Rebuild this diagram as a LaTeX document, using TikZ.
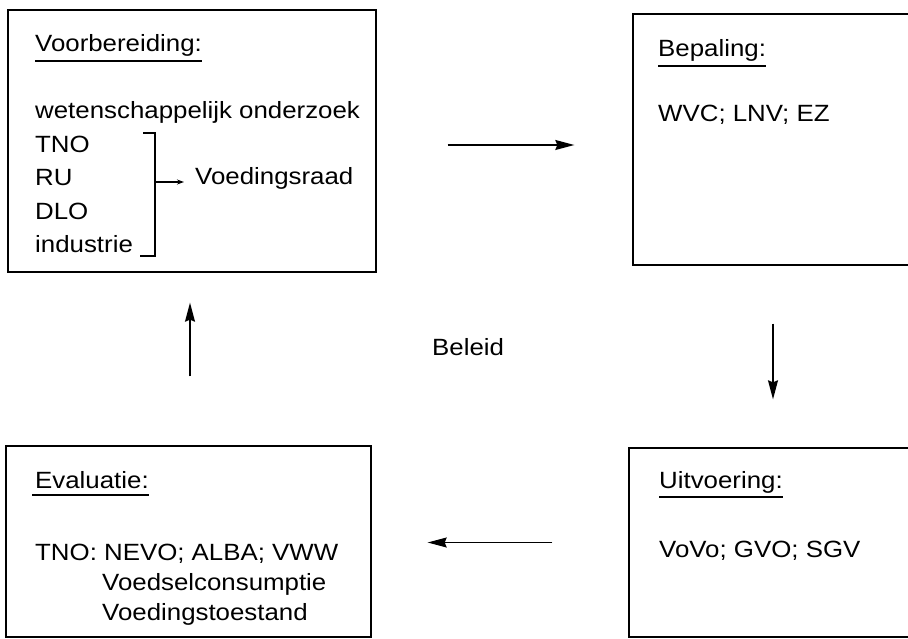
\documentclass[tikz,border=0pt]{standalone}
\usepackage{fontspec}
\setmainfont{Liberation Sans}[FakeStretch=1.1]
\usetikzlibrary{arrows.meta}

\begin{document}
\begin{tikzpicture}[x=1pt,y=1pt,yscale=-1,xscale=1,
    box/.style={draw, line width=1.4pt, inner sep=0pt},
    tekst/.style={anchor=base west, inner sep=0pt, font=\fontsize{23.5}{28}\selectfont},
    streep/.style={line width=1.4pt},
    pijl/.style={-{Stealth[length=19pt,width=10pt,inset=2pt]}, line width=1.2pt},
    kleinpijl/.style={-{Stealth[length=7pt,width=5pt]}, line width=1.2pt}]
            \useasboundingbox (0,0) rectangle (908,639);
            \clip (0,0) rectangle (908,639);
            % vier blokken
            \node[box, minimum width=368pt, minimum height=262pt] (voor) at (192,141) {};
            \node[box, minimum width=327pt, minimum height=251pt] (bep) at (796.5,139.5) {};
            \node[box, minimum width=331pt, minimum height=189pt] (uitv) at (794.5,542.5) {};
            \node[box, minimum width=365pt, minimum height=191pt] (eval) at (188.5,541.5) {};
            % Voorbereiding
            \node[tekst] (voork) at (35,52) {Voorbereiding:};
            \draw[streep] ([yshift=9pt]voork.base west) -- ([yshift=9pt]voork.base east);
            \node[tekst] (wo) at (35,119) {wetenschappelijk onderzoek};
            \node[tekst] (tno) at (35,152.5) {TNO};
            \node[tekst] (ru) at (35,186) {RU};
            \node[tekst] (dlo) at (35,219.5) {DLO};
            \node[tekst] (ind) at (35,253) {industrie};
            \node[tekst] (raad) at (195,185) {Voedingsraad};
            \draw[line width=1.2pt] (143,133) -- (155,133) -- (155,256) -- (140,256);
            \coordinate (haak) at (155,182);
            \draw[kleinpijl, shorten >=11pt] (haak) -- (haak -| raad.west);
            % Bepaling
            \node[tekst] (bepk) at (658,57) {Bepaling:};
            \draw[streep] ([yshift=9pt]bepk.base west) -- ([yshift=9pt]bepk.base east);
            \node[tekst] (wvc) at (658,122) {WVC; LNV; EZ};
            % Uitvoering
            \node[tekst] (uitk) at (659,488) {Uitvoering:};
            \draw[streep] ([yshift=9pt]uitk.base west) -- ([yshift=9pt]uitk.base east);
            \node[tekst] (vovo) at (659,557) {VoVo; GVO; SGV};
            % Evaluatie
            \node[tekst] (evk) at (35,488) {Evaluatie:};
            \draw[streep] ([yshift=7pt,xshift=-3pt]evk.base west) -- ([yshift=7pt]evk.base east);
            \node[tekst] (tnoe) at (35,560) {TNO: NEVO; ALBA; VWW};
            \node[tekst] (cons) at (102,590) {Voedselconsumptie};
            \node[tekst] (toest) at (102,620) {Voedingstoestand};
            % kringloop
            \node[tekst] (beleid) at (432,355) {Beleid};
            \draw[pijl, shorten <=71pt, shorten >=58pt] ([yshift=4pt]voor.east) -- ([yshift=4pt]voor.east -| bep.west);
            \draw[pijl, shorten <=58pt, shorten >=48pt] ([xshift=-23.5pt]bep.south) -- ([xshift=-23.5pt]bep.south |- uitv.north);
            \draw[pijl, shorten <=76pt, shorten >=56pt] (uitv.west) -- (uitv.west -| eval.east);
            \draw[pijl, shorten <=69pt, shorten >=30pt] ([xshift=1.5pt]eval.north) -- ([xshift=1.5pt]eval.north |- voor.south);
        \end{tikzpicture}
\end{document}
